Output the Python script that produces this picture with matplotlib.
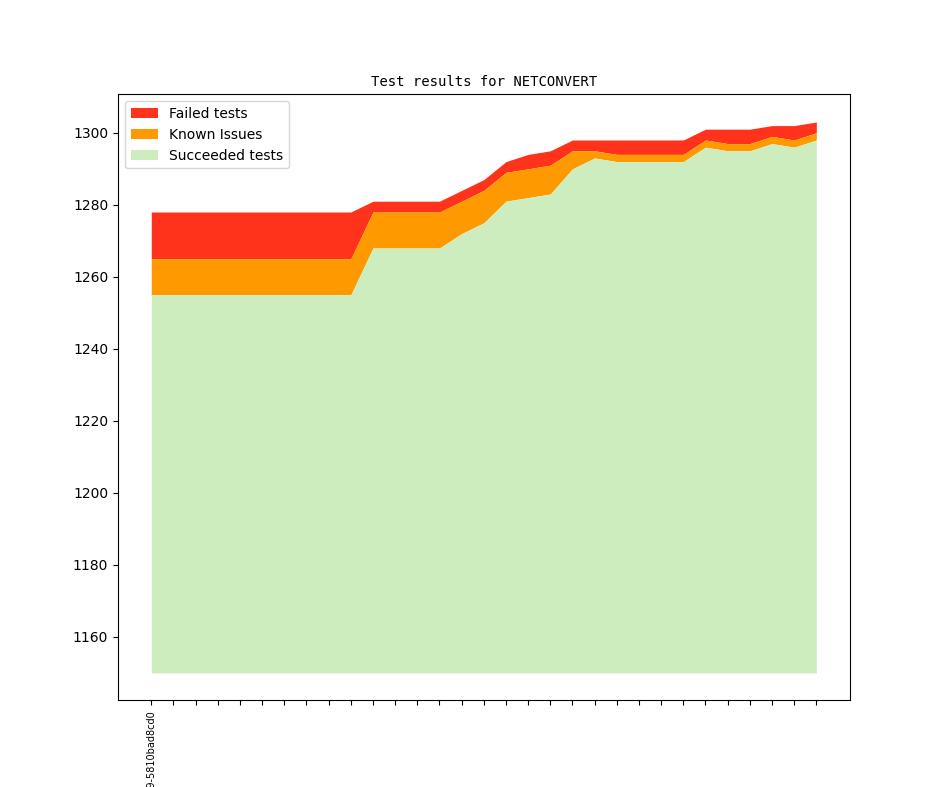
import matplotlib
matplotlib.use('Agg')
import matplotlib.pyplot as plt
import numpy as np

# test counts per build
succeeded = [1255]*10 + [1268, 1268, 1268, 1268, 1272, 1275, 1281, 1282, 1283, 1290,
             1293, 1292, 1292, 1292, 1292, 1296, 1295, 1295, 1297, 1296, 1298]
known_top = [1265]*10 + [1278, 1278, 1278, 1278, 1281, 1284, 1289, 1290, 1291, 1295,
             1295, 1294, 1294, 1294, 1294, 1298, 1297, 1297, 1299, 1298, 1300]
failed_top = [1278]*10 + [1281, 1281, 1281, 1281, 1284, 1287, 1292, 1294, 1295, 1298,
              1298, 1298, 1298, 1298, 1298, 1301, 1301, 1301, 1302, 1302, 1303]
baseline = 1150
labels = ['v1_3_1+0359-5810bad8cd0'] + [''] * (len(succeeded) - 1)

x = np.arange(len(succeeded))

fig = plt.figure(figsize=(9.44, 7.87), dpi=100)
ax = fig.add_subplot(111)
ax.fill_between(x, known_top, failed_top, color='#ff331c', label='Failed tests', linewidth=0)
ax.fill_between(x, succeeded, known_top, color='#ff9900', label='Known Issues', linewidth=0)
ax.fill_between(x, baseline, succeeded, color='#ceedbe', label='Succeeded tests', linewidth=0)

ax.set_xticks(x)
ax.set_xticklabels(labels, rotation=90, fontsize=7)
ax.set_title('Test results for NETCONVERT', fontfamily='monospace', fontsize=10)
ax.legend(loc='upper left')

fig.savefig('out.png', dpi=100)
